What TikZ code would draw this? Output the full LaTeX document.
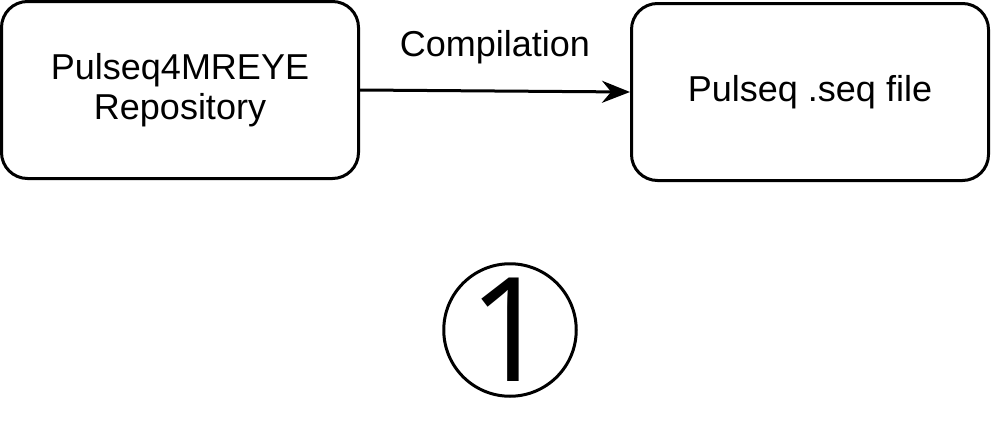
\documentclass[tikz,border=0pt]{standalone}
\usepackage{fontspec}
\setmainfont{Liberation Sans}
\newfontfamily\onefont{Open Sans}
\usetikzlibrary{arrows.meta}
\begin{document}
\begin{tikzpicture}[x=1pt,y=-1pt,
  box/.style={draw,line width=3pt,rounded corners=26pt,minimum width=357pt,minimum height=177pt,align=center,font=\fontsize{36}{40}\selectfont,inner sep=0pt},
  arr/.style={line width=3pt,-{Stealth[length=28pt,width=22pt]}}]
\useasboundingbox (0,0) rectangle (993,426);
\node[box] (a) at (180,90) {Pulseq4MREYE\\Repository};
\node[box] (b) at (810,92) {Pulseq .seq file};
\draw[arr] (a.east) -- node[above=22pt,font=\fontsize{36}{40}\selectfont] (l) {Compilation} (b.west);
\node[draw,circle,line width=3pt,minimum size=120pt,inner sep=0pt,font=\onefont\fontsize{145}{145}\selectfont] (c) at (510,330) {1};
\end{tikzpicture}
\end{document}
